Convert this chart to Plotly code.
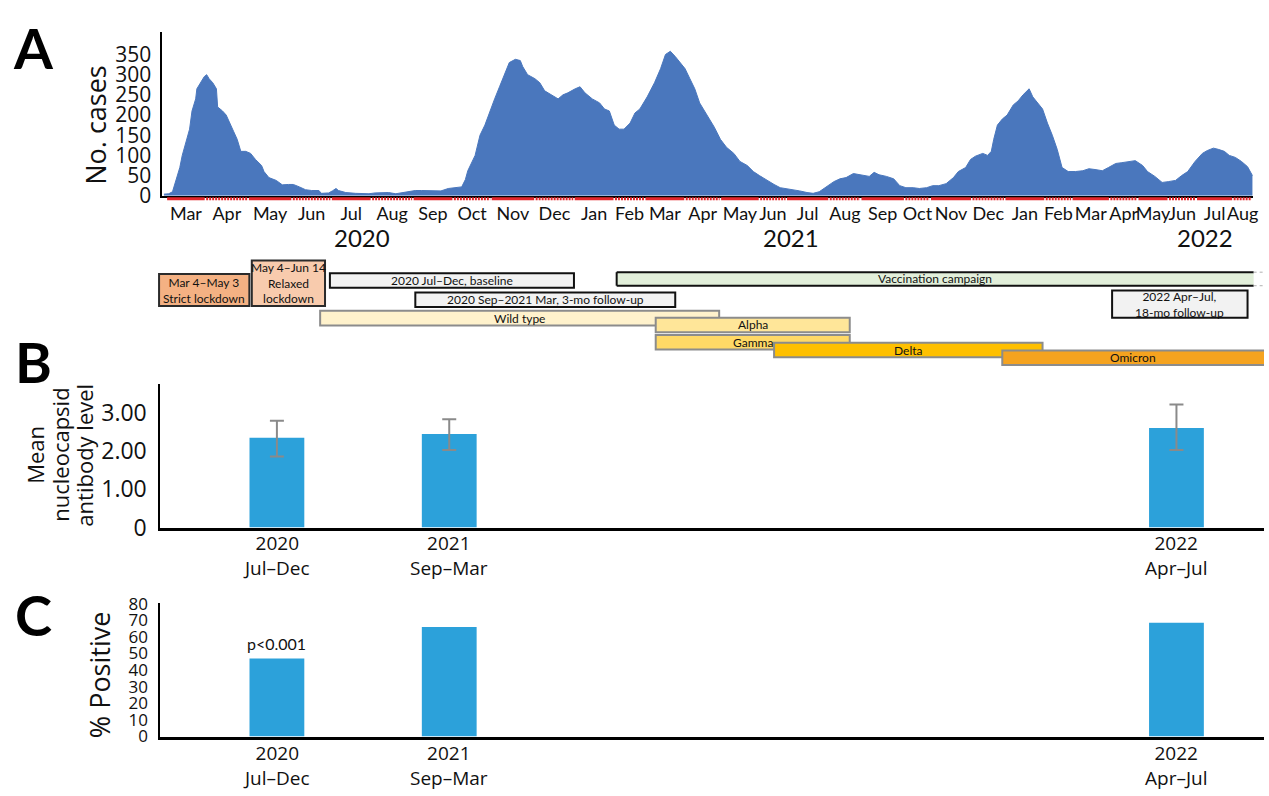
import plotly.graph_objects as go

W, H = 1269, 796

# ---------------- Panel A: daily case counts ----------------
# position along the drawn timeline (days from 1 Mar 2020) and daily cases
case_day = [-2, 2, 5, 8, 11, 13, 16, 19, 21, 24, 25, 29, 31, 33, 35, 38, 41, 42, 46, 49,
            51, 55, 58, 61, 65, 69, 73, 78, 80, 84, 90, 95, 100, 104, 109, 114, 119, 125, 127, 133,
            136, 139, 141, 147, 155, 160, 166, 171, 176, 182, 188, 193, 198, 204, 209, 215, 220, 225, 231, 237,
            242, 245, 247, 253, 257, 261, 265, 269, 273, 277, 281, 286, 290, 292, 296, 302, 306, 310, 315, 321,
            325, 329, 335, 339, 343, 349, 355, 359, 363, 367, 371, 375, 380, 384, 388, 394, 400, 405, 409, 413,
            417, 421, 425, 429, 433, 437, 443, 449, 454, 459, 465, 470, 476, 481, 486, 492, 498, 503, 508, 514,
            519, 525, 530, 535, 541, 547, 552, 557, 563, 568, 574, 576, 580, 584, 590, 596, 601, 606, 612, 617,
            623, 628, 633, 639, 645, 649, 655, 659, 663, 669, 673, 676, 678, 681, 685, 689, 694, 698, 702, 707,
            710, 714, 718, 722, 726, 730, 734, 739, 745, 751, 756, 761, 767, 772, 778, 783, 788, 794, 800, 804,
            810, 816, 821, 827, 832, 837, 843, 849, 853, 858, 862, 867, 871, 876, 881, 886, 890]
case_count = [4, 5, 10, 40, 70, 100, 130, 165, 210, 240, 265, 285, 295, 300, 290, 280, 265, 220, 210, 200,
              185, 160, 140, 110, 110, 105, 90, 75, 60, 45, 38, 27, 28, 28, 22, 15, 13, 13, 6, 7,
              12, 18, 13, 8, 6, 5, 5, 7, 7, 8, 5, 8, 10, 13, 13, 13, 13, 12, 18, 20,
              22, 40, 62, 100, 150, 175, 210, 240, 270, 300, 330, 338, 335, 320, 300, 290, 280, 260, 250, 240,
              250, 255, 265, 270, 255, 240, 230, 215, 210, 175, 165, 165, 180, 205, 215, 245, 280, 315, 350, 358,
              345, 330, 315, 290, 265, 230, 200, 170, 140, 120, 105, 85, 75, 60, 50, 38, 28, 20, 18, 14,
              12, 8, 6, 10, 22, 35, 42, 45, 55, 52, 50, 48, 58, 52, 48, 42, 25, 20, 20, 18,
              20, 25, 25, 30, 45, 60, 70, 90, 98, 105, 100, 110, 140, 175, 190, 200, 225, 235, 250, 265,
              245, 230, 215, 180, 150, 115, 70, 60, 60, 62, 67, 65, 62, 70, 80, 82, 84, 87, 75, 60,
              48, 33, 35, 38, 50, 60, 85, 105, 112, 118, 115, 110, 100, 95, 85, 72, 50]

month_names = ["Mar", "Apr", "May", "Jun", "Jul", "Aug", "Sep", "Oct", "Nov", "Dec", "Jan", "Feb",
               "Mar", "Apr", "May", "Jun", "Jul", "Aug", "Sep", "Oct", "Nov", "Dec", "Jan", "Feb",
               "Mar", "Apr", "May", "Jun", "Jul", "Aug"]
month_start = [0, 32, 67, 103, 135, 168, 202, 235, 266, 302, 334, 367, 392, 425, 454, 486, 508, 543,
               569, 605, 626, 660, 687, 720, 742, 773, 796, 821, 844, 874]
timeline_end = 890
year_labels = ["2020", "2021", "2022"]
year_day = [160, 512, 851]

# ---------------- Timeline bars ----------------
event_labels = ["Mar 4–May 3<br>Strict lockdown", "May 4–Jun 14<br>Relaxed<br>lockdown",
                "2020 Jul–Dec, baseline", "2020 Sep–2021 Mar, 3-mo follow-up",
                "Wild type", "Vaccination campaign", "2022 Apr–Jul,<br>18-mo follow-up",
                "Alpha", "Gamma", "Delta", "Omicron"]
event_start = [-6, 70, 134, 204, 126, 369, 775, 401, 401, 498, 685]
event_end = [68, 130, 334, 417, 453, 891, 886, 560, 560, 718, 905]

# ---------------- Panels B and C ----------------
period_year = ["2020", "2021", "2022"]
period_months = ["Jul–Dec", "Sep–Mar", "Apr–Jul"]
period_slot = [1.0, 2.0, 6.22]
mean_antibody = [2.35, 2.45, 2.61]
ci_low = [1.86, 2.03, 2.03]
ci_high = [2.80, 2.84, 3.22]
pct_positive = [47, 66, 68.5]
p_label = "p<0.001"


def fx(px):
    return px / W


def fy(px):
    return 1 - px / H


CASE_BLUE = "#4a77bd"
BAR_BLUE = "#2ca1da"
STRIPE_RED = "#e3262b"
NUM_FONT = "Open Sans"
TXT_FONT = "Lato"

# event styles: (top px, bottom px, fill, border colour)
event_style = [
    (272, 305, "#f4b183", "#2b2b2b"),
    (258, 305, "#f8cbad", "#2b2b2b"),
    (271, 286, "#f2f2f2", "#111111"),
    (291, 306, "#f2f2f2", "#111111"),
    (310, 325, "#fff2cc", "#8c8c8c"),
    (270, 284, "#e2efda", "#111111"),
    (289, 317, "#f2f2f2", "#111111"),
    (317, 332, "#ffe699", "#8c8c8c"),
    (335, 350, "#ffd966", "#8c8c8c"),
    (343, 358, "#ffc000", "#8c8c8c"),
    (351, 366, "#f5a31f", "#8c8c8c"),
]

fig = go.Figure()

fig.add_trace(go.Scatter(
    x=case_day, y=case_count, mode="lines", fill="tozeroy",
    line=dict(color=CASE_BLUE, width=1), fillcolor=CASE_BLUE,
    xaxis="x", yaxis="y", hoverinfo="skip"))

# anchor trace for the timeline axis
fig.add_trace(go.Scatter(x=[], y=[], xaxis="x2", yaxis="y4", hoverinfo="skip"))

fig.add_trace(go.Bar(
    x=period_slot, y=mean_antibody, width=0.318, marker=dict(color=BAR_BLUE, line=dict(width=0)),
    error_y=dict(type="data",
                 array=[h - m for h, m in zip(ci_high, mean_antibody)],
                 arrayminus=[m - l for l, m in zip(ci_low, mean_antibody)],
                 color="#8a8a8a", thickness=2, width=7),
    xaxis="x3", yaxis="y2", hoverinfo="skip"))

fig.add_trace(go.Bar(
    x=period_slot, y=pct_positive, width=0.318, marker=dict(color=BAR_BLUE, line=dict(width=0)),
    xaxis="x4", yaxis="y3", hoverinfo="skip"))

# x ranges: panel A axis and the full-width timeline axis share the same scale
a_left, a_right = 163, 1258
a_range = [-3.3, 890.5]
units_per_px = (a_range[1] - a_range[0]) / (a_right - a_left)
t_range = [a_range[0] - a_left * units_per_px, a_range[1] + (W - a_right) * units_per_px]

bc_left = 161
bc_range = [0.3237, 6.728]

month_mid = []
for i, s in enumerate(month_start):
    e = month_start[i + 1] if i + 1 < len(month_start) else timeline_end
    month_mid.append((s + e) / 2)

axis_line = dict(showline=True, linecolor="black", showgrid=False, zeroline=False)

fig.update_layout(
    width=W, height=H, margin=dict(l=0, r=0, t=0, b=0),
    paper_bgcolor="white", plot_bgcolor="white", showlegend=False,
    xaxis=dict(domain=[fx(a_left), fx(a_right)], anchor="y", range=a_range, linewidth=2,
               tickmode="array", tickvals=month_mid, ticktext=month_names, ticks="",
               ticklabelstandoff=1, tickangle=0,
               tickfont=dict(family=TXT_FONT, size=18, color="#111"), **axis_line),
    yaxis=dict(domain=[fy(191), fy(22)], anchor="x", range=[0, 405], linewidth=2,
               tickmode="array", tickvals=[0, 50, 100, 150, 200, 250, 300, 350], ticks="",
               ticklabelstandoff=5, tickfont=dict(family=NUM_FONT, size=21, color="#111"), **axis_line),
    xaxis2=dict(domain=[0, 1], anchor="y4", range=t_range, visible=False),
    yaxis4=dict(domain=[fy(370), fy(255)], anchor="x2", range=[0, 1], visible=False),
    xaxis3=dict(domain=[fx(bc_left), 1], anchor="y2", range=bc_range, linewidth=2.5,
                showticklabels=False, ticks="", **axis_line),
    yaxis2=dict(domain=[fy(534), fy(386)], anchor="x3", range=[0, 3.75], linewidth=2,
                tickmode="array", tickvals=[0, 1, 2, 3], ticktext=["0", "1.00", "2.00", "3.00"],
                ticks="", ticklabelstandoff=7, tickfont=dict(family=NUM_FONT, size=23, color="#111"),
                **axis_line),
    xaxis4=dict(domain=[fx(bc_left), 1], anchor="y3", range=bc_range, linewidth=2.5,
                showticklabels=False, ticks="", **axis_line),
    yaxis3=dict(domain=[fy(750), fy(612)], anchor="x4", range=[0, 80.4], linewidth=2,
                tickmode="array", tickvals=list(range(0, 81, 10)), ticks="", ticklabelstandoff=7,
                tickfont=dict(family=NUM_FONT, size=17, color="#111"), **axis_line),
)

shapes = []
# alternating month stripe under the case axis
for i, s in enumerate(month_start):
    e = month_start[i + 1] if i + 1 < len(month_start) else timeline_end
    shapes.append(dict(type="line", xref="x", yref="paper", x0=s + 0.6, x1=e - 0.6,
                       y0=fy(194), y1=fy(194),
                       line=dict(color=STRIPE_RED, width=3, dash="solid" if i % 2 == 0 else "2px,1px")))

# timeline boxes
annotations = []
for lab, s, e, (top, bot, fill, border) in zip(event_labels, event_start, event_end, event_style):
    if lab == "Vaccination campaign":
        shapes.append(dict(type="rect", xref="x2", yref="paper", x0=s, x1=e, y0=fy(bot), y1=fy(top),
                           fillcolor=fill, line=dict(width=0)))
        for yy in (top, bot):
            shapes.append(dict(type="line", xref="x2", yref="paper", x0=s, x1=e, y0=fy(yy), y1=fy(yy),
                               line=dict(color=border, width=2)))
            shapes.append(dict(type="line", xref="x2", yref="paper", x0=e, x1=t_range[1], y0=fy(yy),
                               y1=fy(yy), line=dict(color="#b0b0b0", width=1, dash="dot")))
        shapes.append(dict(type="line", xref="x2", yref="paper", x0=s, x1=s, y0=fy(bot), y1=fy(top),
                           line=dict(color=border, width=2)))
    else:
        shapes.append(dict(type="rect", xref="x2", yref="paper", x0=s, x1=e, y0=fy(bot), y1=fy(top),
                           fillcolor=fill, line=dict(color=border, width=2)))
    annotations.append(dict(xref="x2", yref="paper", x=(s + min(e, t_range[1])) / 2, y=fy((top + bot) / 2),
                            text=lab, showarrow=False, xanchor="center", yanchor="middle",
                            font=dict(family=TXT_FONT, size=12, color="#111")))

# year labels under the month axis
for lab, d in zip(year_labels, year_day):
    annotations.append(dict(xref="x", yref="paper", x=d, y=fy(234), text=lab, showarrow=False,
                            xanchor="center", yanchor="middle",
                            font=dict(family=TXT_FONT, size=24, color="#111")))

# period labels under panels B and C (year over month span)
for xa, mid in (("x3", 563), ("x4", 780)):
    for yr, mo, slot in zip(period_year, period_months, period_slot):
        annotations.append(dict(xref=xa, yref="paper", x=slot, y=fy(mid), text=yr + "<br>" + mo,
                                showarrow=False, xanchor="center", yanchor="middle",
                                font=dict(family=NUM_FONT, size=19, color="#111")))

annotations.append(dict(xref="x4", yref="paper", x=period_slot[0], y=fy(654), text=p_label,
                        showarrow=False, xanchor="center", yanchor="middle",
                        font=dict(family=TXT_FONT, size=16, color="#111")))

# axis titles
annotations.append(dict(xref="paper", yref="paper", x=fx(96), y=fy(118), text="No. cases",
                        textangle=-90, showarrow=False, xanchor="center", yanchor="middle",
                        font=dict(family=NUM_FONT, size=27, color="#111")))
for txt, xp in (("Mean", 35), ("nucleocapsid", 60), ("antibody level", 84)):
    annotations.append(dict(xref="paper", yref="paper", x=fx(xp), y=fy(459), text=txt,
                            textangle=-90, showarrow=False, xanchor="center", yanchor="middle",
                            font=dict(family=NUM_FONT, size=22, color="#111")))
annotations.append(dict(xref="paper", yref="paper", x=fx(100), y=fy(686), text="% Positive",
                        textangle=-90, showarrow=False, xanchor="center", yanchor="middle",
                        font=dict(family=NUM_FONT, size=27, color="#111")))

# panel letters
for letter, yp in (("A", 38), ("B", 362), ("C", 624)):
    annotations.append(dict(xref="paper", yref="paper", x=fx(34), y=fy(yp), text="<b>%s</b>" % letter,
                            showarrow=False, xanchor="center", yanchor="middle",
                            font=dict(family=TXT_FONT, size=56, color="black")))

fig.update_layout(shapes=shapes, annotations=annotations)

fig.write_html("out.html")
